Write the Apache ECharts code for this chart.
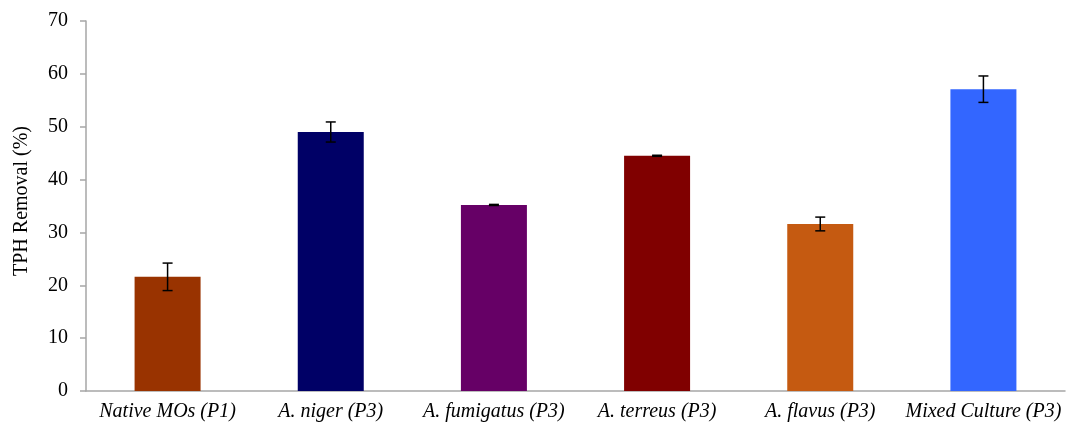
<!DOCTYPE html>
<html>
<head>
<meta charset="utf-8">
<script src="https://cdn.jsdelivr.net/npm/echarts@6/dist/echarts.min.js"></script>
<style>
  html, body { margin: 0; padding: 0; background: #ffffff; }
  #chart { width: 1071px; height: 426px; }
</style>
</head>
<body>
<div id="chart"></div>
<script>
// Treatments on the x axis
const categories = [
  'Native MOs (P1)',
  'A. niger (P3)',
  'A. fumigatus (P3)',
  'A. terreus (P3)',
  'A. flavus (P3)',
  'Mixed Culture (P3)'
];
// Mean TPH removal (%)
const removal = [21.6, 49.0, 35.2, 44.5, 31.6, 57.1];
// Standard deviation of each mean
const errors = [2.6, 1.9, 0.1, 0.1, 1.3, 2.5];
// Fill colour for each bar
const barColors = ['#993300', '#000066', '#660066', '#800000', '#C55A11', '#3366FF'];
// Y axis ticks
const yTicks = [0, 10, 20, 30, 40, 50, 60, 70];

const serif = '"Liberation Serif", "Times New Roman", serif';
const axisGray = '#a6a6a6';

const errorData = removal.map((v, i) => [i, v - errors[i], v + errors[i]]);

const chart = echarts.init(document.getElementById('chart'), null, { renderer: 'canvas' });

chart.setOption({
  animation: false,
  grid: { left: 86, right: 6, top: 21, bottom: 35, containLabel: false },
  xAxis: {
    type: 'category',
    data: categories,
    axisLine: { lineStyle: { color: axisGray, width: 1.5 } },
    axisTick: { show: false },
    axisLabel: {
      interval: 0,
      margin: 11,
      fontFamily: serif,
      fontStyle: 'italic',
      fontSize: 20,
      color: '#000'
    }
  },
  yAxis: {
    type: 'value',
    min: yTicks[0],
    max: yTicks[yTicks.length - 1],
    interval: 10,
    name: 'TPH Removal (%)',
    nameLocation: 'middle',
    nameGap: 54,
    nameRotate: 90,
    nameTextStyle: { fontFamily: serif, fontSize: 20, color: '#000', padding: [0, 0, 0, 10] },
    axisLine: { show: true, lineStyle: { color: axisGray, width: 1.5 } },
    axisTick: { show: true, length: 6, lineStyle: { color: axisGray, width: 1.5 } },
    splitLine: { show: false },
    axisLabel: {
      margin: 18,
      fontFamily: serif,
      fontSize: 20,
      color: '#000'
    }
  },
  series: [
    {
      type: 'bar',
      barWidth: 66,
      data: removal.map((v, i) => ({ value: v, itemStyle: { color: barColors[i] } }))
    },
    {
      type: 'custom',
      data: errorData,
      z: 10,
      renderItem: function (params, api) {
        const x = api.value(0);
        const low = api.coord([x, api.value(1)]);
        const high = api.coord([x, api.value(2)]);
        const half = 5;
        const style = { stroke: '#000', lineWidth: 1.5 };
        return {
          type: 'group',
          children: [
            { type: 'line', shape: { x1: high[0], y1: high[1], x2: low[0], y2: low[1] }, style: style },
            { type: 'line', shape: { x1: high[0] - half, y1: high[1], x2: high[0] + half, y2: high[1] }, style: style },
            { type: 'line', shape: { x1: low[0] - half, y1: low[1], x2: low[0] + half, y2: low[1] }, style: style }
          ]
        };
      }
    }
  ]
});
</script>
</body>
</html>
